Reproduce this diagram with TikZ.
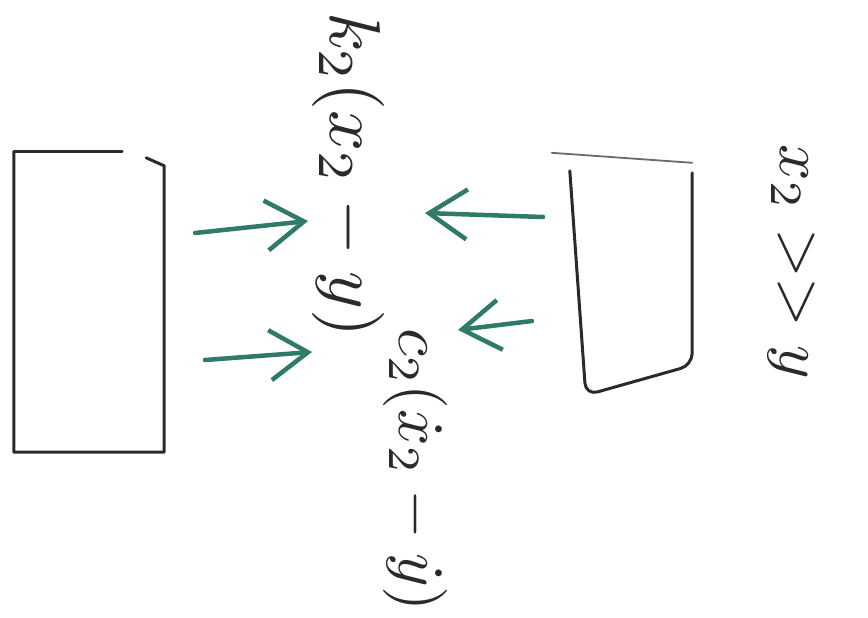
\documentclass[tikz,border=0pt]{standalone}
\usetikzlibrary{arrows.meta}
\definecolor{springgreen}{HTML}{2F7A68}
\definecolor{ink}{HTML}{2A2A2A}
\tikzset{
  massbox/.style={rectangle, inner sep=0pt},
  edge/.style={draw=ink, line width=3pt, line cap=round, line join=round},
  thinedge/.style={draw=ink!70, line width=1.8pt, line cap=round},
  forcearrow/.style={draw=springgreen, line width=4.5pt, line cap=round, line join=round,
    -{Straight Barb[length=38pt,width=50pt,line width=4.5pt]}},
  label90/.style={text=ink, rotate=-90, inner sep=0pt, font=\normalsize}
}
\begin{document}
\begin{tikzpicture}[x=1pt,y=-1pt]
  \useasboundingbox[fill=white] (0,0) rectangle (868,618);
  % masses
  \node[massbox, minimum width=150pt, minimum height=300pt] (left) at (89,302) {};
  \node[massbox, minimum width=122pt, minimum height=242pt] (right) at (631,274) {};
  \draw[edge] (left.north west) -- ([xshift=-42pt]left.north east);
  \draw[edge] ([xshift=-18pt,yshift=-6pt]left.north east) -- ([yshift=-14pt]left.north east)
    -- (left.south east) -- (left.south west) -- (left.north west);
  \draw[thinedge] ([xshift=-18pt]right.north west) -- ([yshift=-10pt]right.north east);
  \draw[edge, rounded corners=12pt] ([yshift=-18pt]right.north west) -- ([xshift=16pt]right.south west)
    -- ([yshift=30pt]right.south east) -- ([yshift=-20pt]right.north east);
  % labels
  \node[label90, scale=7.2] (kterm) at (348,175) {$k_2(x_2-y)$};
  \node[label90, scale=6.4] (cterm) at (415,470) {$c_2(\dot{x}_2-\dot{y})$};
  \node[label90, scale=6.4] (cond) at (792,262) {$x_2>>y$};
  % force arrows
  \coordinate (a1s) at (195,233); \coordinate (a1e) at (308,221);
  \coordinate (a2s) at (205,360); \coordinate (a2e) at (312,352);
  \coordinate (a3s) at (543,217); \coordinate (a3e) at (425,213);
  \coordinate (a4s) at (532,321); \coordinate (a4e) at (458,330);
  \draw[forcearrow] (a1s) -- (a1e);
  \draw[forcearrow] (a2s) -- (a2e);
  \draw[forcearrow] (a3s) -- (a3e);
  \draw[forcearrow] (a4s) -- (a4e);
\end{tikzpicture}
\end{document}
